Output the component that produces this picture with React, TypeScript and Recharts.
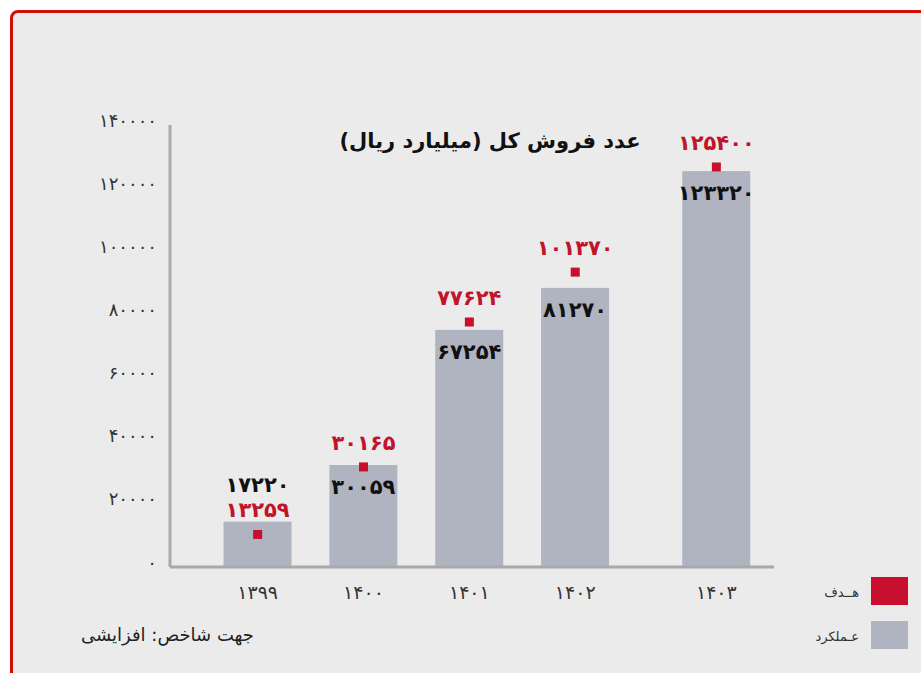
import React from 'react';
import { ComposedChart, Bar, Line, XAxis, YAxis, Legend } from 'recharts';

// ---- data ----
const categories = ['1399', '1400', '1401', '1402', '1403'];
const actualValues = [14350, 32300, 75100, 88400, 125400];
const targetValues = [10300, 31700, 77600, 93400, 126700];
const actualLabels = [17220, 30059, 67254, 81270, 123320];
const targetLabels = [13259, 30165, 77624, 101370, 125400];
const yTicks = [0, 20000, 40000, 60000, 80000, 100000, 120000, 140000];
const seriesNames = { target: 'هــدف', actual: 'عـملکرد' };
const titleText = 'عدد فروش کل (میلیارد ریال)';
const noteText = 'جهت شاخص: افزایشی';

// ---- layout / style ----
const FONT = "'DejaVu Sans', sans-serif";
const RED = '#c8102e';
const RED_TEXT = '#c0142b';
const GRAY = '#b0b4c1';
const AXIS = '#a9a9a9';
const BAR_W = 68;
const gapsBefore = [0, 2, 2, 2, 3];

const faDigits = '۰۱۲۳۴۵۶۷۸۹';
const toFa = (v: number | string) => String(v).replace(/[0-9]/g, (d) => faDigits[Number(d)]);

const rows: any[] = [];
categories.forEach((c, i) => {
  for (let g = 0; g < gapsBefore[i]; g++) rows.push({ cat: `gap-${i}-${g}` });
  rows.push({
    cat: c,
    actual: actualValues[i],
    target: targetValues[i],
    actualLabel: actualLabels[i],
    targetLabel: targetLabels[i],
  });
});

const BarShape = (p: any) => {
  const { x, y, width, height, fill } = p;
  if (height == null || !(height > 0)) return <g />;
  const payload = p.payload || {};
  const cx = x + width / 2;
  const ly = height < 60 ? y - 37 : y + 22;
  return (
    <g>
      <rect x={cx - BAR_W / 2} y={y} width={BAR_W} height={height} fill={fill} />
      <text
        x={cx}
        y={ly}
        textAnchor="middle"
        dominantBaseline="central"
        fontFamily={FONT}
        fontWeight="bold"
        fontSize={21}
        fill="#111"
      >
        {toFa(payload.actualLabel)}
      </text>
    </g>
  );
};

const TargetDot = (p: any) => {
  const { cx, cy, payload, index } = p;
  if (cy == null || payload == null || payload.target == null) return <g key={`d${index}`} />;
  return (
    <g key={`d${index}`}>
      <rect x={cx - 4.5} y={cy - 4.5} width={9} height={9} fill={RED} />
      <text
        x={cx}
        y={cy - 24}
        textAnchor="middle"
        dominantBaseline="central"
        fontFamily={FONT}
        fontWeight="bold"
        fontSize={21}
        fill={RED_TEXT}
      >
        {toFa(payload.targetLabel)}
      </text>
    </g>
  );
};

const XTick = (p: any) => {
  const { x, y, payload } = p;
  if (!categories.includes(payload.value)) return <g />;
  return (
    <text x={x} y={y} dy={17} textAnchor="middle" dominantBaseline="central" fontFamily={FONT} fontSize={19} fill="#333">
      {toFa(payload.value)}
    </text>
  );
};

const YTick = (p: any) => {
  const { y, payload } = p;
  return (
    <text x={157} y={y} dy={-5} textAnchor="end" dominantBaseline="central" fontFamily={FONT} fontSize={18} fill="#333">
      {toFa(payload.value)}
    </text>
  );
};

const LegendContent = (props: any) => {
  const payload: any[] = props.payload || [];
  const order = ['target', 'actual'];
  const items = order
    .map((k) => payload.find((e) => e.dataKey === k))
    .filter(Boolean);
  return (
    <div style={{ position: 'relative', width: 160, height: 90, fontFamily: FONT }}>
      {items.map((e: any, i: number) => (
        <div key={e.dataKey} style={{ position: 'absolute', left: 0, top: i * 44 + 7, width: 160, height: 28 }}>
          <div
            style={{
              position: 'absolute',
              left: 0,
              width: 99,
              top: 0,
              height: 28,
              lineHeight: '32px',
              textAlign: 'right',
              direction: 'rtl',
              fontSize: 13,
              color: '#333',
            }}
          >
            {e.value}
          </div>
          <div style={{ position: 'absolute', left: 111, top: 0, width: 37, height: 28, background: e.color }} />
        </div>
      ))}
    </div>
  );
};

export default function App() {
  return (
    <div style={{ position: 'absolute', left: 0, top: 0, width: 921, height: 673, background: '#fff', overflow: 'hidden' }}>
      <div
        style={{
          position: 'absolute',
          left: 10,
          top: 10,
          width: 940,
          height: 700,
          boxSizing: 'border-box',
          border: '3px solid #d01005',
          borderRadius: 8,
          background: '#ebebeb',
        }}
      />
      <div
        style={{
          position: 'absolute',
          left: 290,
          width: 400,
          top: 124,
          height: 34,
          lineHeight: '34px',
          textAlign: 'center',
          direction: 'rtl',
          whiteSpace: 'nowrap',
          fontFamily: FONT,
          fontWeight: 'bold',
          fontSize: 21,
          color: '#111',
        }}
      >
        {titleText}
      </div>
      <div
        style={{
          position: 'absolute',
          left: 60,
          width: 215,
          top: 620,
          height: 30,
          lineHeight: '30px',
          textAlign: 'center',
          direction: 'rtl',
          whiteSpace: 'nowrap',
          fontFamily: FONT,
          fontSize: 18,
          color: '#222',
        }}
      >
        {noteText}
      </div>
      <div style={{ position: 'absolute', left: 0, top: 0 }}>
        <ComposedChart
          width={921}
          height={673}
          data={rows}
          margin={{ top: 125, right: 147, bottom: 76, left: 0 }}
        >
          <XAxis
            dataKey="cat"
            interval={0}
            height={30}
            padding={{ left: 70, right: 40 }}
            axisLine={{ stroke: AXIS, strokeWidth: 3 }}
            tickLine={false}
            tick={<XTick />}
          />
          <YAxis
            width={170}
            domain={[0, 140000]}
            ticks={yTicks}
            interval={0}
            axisLine={{ stroke: AXIS, strokeWidth: 3 }}
            tickLine={false}
            tick={<YTick />}
          />
          <Bar dataKey="actual" name={seriesNames.actual} fill={GRAY} isAnimationActive={false} shape={<BarShape />} />
          <Line
            dataKey="target"
            name={seriesNames.target}
            stroke={RED}
            strokeWidth={0}
            dot={TargetDot}
            activeDot={false}
            isAnimationActive={false}
          />
          <Legend
            layout="vertical"
            align="center"
            verticalAlign="middle"
            content={<LegendContent />}
            wrapperStyle={{ left: 760, top: 570, width: 160, height: 90 }}
          />
        </ComposedChart>
      </div>
    </div>
  );
}
